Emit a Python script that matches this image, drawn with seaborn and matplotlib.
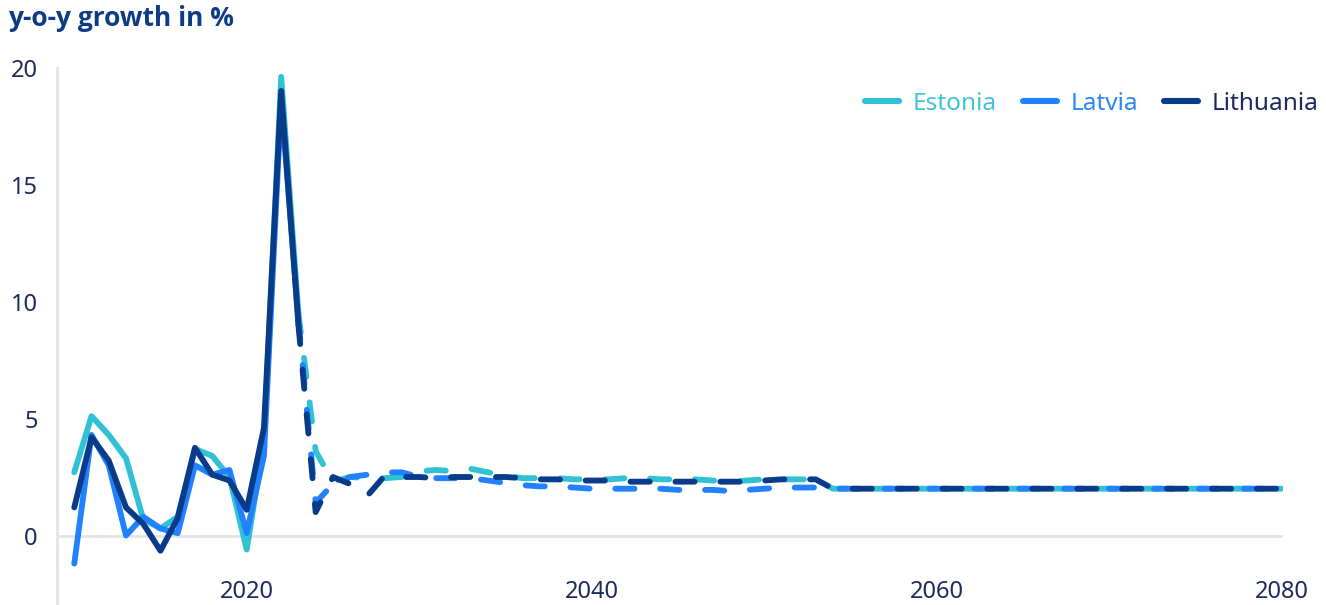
import matplotlib
matplotlib.use("Agg")
import matplotlib.pyplot as plt
from matplotlib.lines import Line2D
import pandas as pd
import seaborn as sns

# Annual real growth, y-o-y in %; outturn up to 2023, projections afterwards
years = list(range(2010, 2081))
last_actual = 2023

estonia = [
    2.7, 5.1, 4.3, 3.3, 0.7, 0.3, 0.8, 3.7, 3.4, 2.5,
    -0.6, 4.0, 19.6, 9.5, 3.6, 2.3, 2.5, 2.45, 2.45, 2.5,
    2.75, 2.8, 2.75, 2.85, 2.7, 2.55, 2.45, 2.45, 2.45, 2.4,
    2.4, 2.4, 2.45, 2.45, 2.4, 2.4, 2.4, 2.35, 2.3, 2.35,
    2.4, 2.4, 2.4, 2.4, 2.0, 2.0, 2.0, 2.0, 2.0, 2.0,
    2.0, 2.0, 2.0, 2.0, 2.0, 2.0, 2.0, 2.0, 2.0, 2.0,
    2.0, 2.0, 2.0, 2.0, 2.0, 2.0, 2.0, 2.0, 2.0, 2.0,
    2.0,
]
latvia = [
    -1.2, 4.3, 3.0, 0.0, 0.8, 0.3, 0.1, 3.0, 2.6, 2.8,
    0.1, 3.4, 18.6, 9.2, 1.4, 2.2, 2.5, 2.6, 2.7, 2.7,
    2.5, 2.45, 2.45, 2.45, 2.35, 2.25, 2.15, 2.1, 2.1, 2.05,
    2.0, 2.0, 2.0, 2.0, 2.0, 1.95, 1.95, 1.95, 1.9, 1.95,
    2.0, 2.05, 2.05, 2.05, 2.0, 2.0, 2.0, 2.0, 2.0, 2.0,
    2.0, 2.0, 2.0, 2.0, 2.0, 2.0, 2.0, 2.0, 2.0, 2.0,
    2.0, 2.0, 2.0, 2.0, 2.0, 2.0, 2.0, 2.0, 2.0, 2.0,
    2.0,
]
lithuania = [
    1.2, 4.2, 3.2, 1.2, 0.5, -0.65, 0.75, 3.75, 2.6, 2.35,
    1.1, 4.6, 19.0, 9.0, 1.0, 2.5, 2.2, 1.7, 2.55, 2.5,
    2.5, 2.45, 2.5, 2.5, 2.5, 2.5, 2.45, 2.4, 2.4, 2.35,
    2.35, 2.35, 2.3, 2.3, 2.3, 2.3, 2.3, 2.3, 2.3, 2.3,
    2.35, 2.4, 2.4, 2.4, 2.0, 2.0, 2.0, 2.0, 2.0, 2.0,
    2.0, 2.0, 2.0, 2.0, 2.0, 2.0, 2.0, 2.0, 2.0, 2.0,
    2.0, 2.0, 2.0, 2.0, 2.0, 2.0, 2.0, 2.0, 2.0, 2.0,
    2.0,
]

countries = ["Estonia", "Latvia", "Lithuania"]
series = {"Estonia": estonia, "Latvia": latvia, "Lithuania": lithuania}
line_colors = {"Estonia": "#30c1d5", "Latvia": "#2181ff", "Lithuania": "#083b89"}
label_colors = {"Estonia": "#3ec4d6", "Latvia": "#2d86f7", "Lithuania": "#1d2b5c"}
x_ticks = [2020, 2040, 2060, 2080]
y_ticks = [0, 5, 10, 15, 20]

# Long-form table: each country split into an outturn and a projection segment
rows = []
for name in countries:
    for yr, val in zip(years, series[name]):
        if yr <= last_actual:
            rows.append({"year": yr, "growth": val, "country": name, "phase": "actual"})
        if yr >= last_actual:
            rows.append({"year": yr, "growth": val, "country": name, "phase": "projection"})
df = pd.DataFrame(rows)

sns.set_style("white")
plt.rcParams["font.family"] = ["Noto Sans", "DejaVu Sans"]

fig = plt.figure(figsize=(13.26, 6.05), dpi=100)
ax = fig.add_axes([0.043, 0.0, 0.9246, 0.8884])

ax.axhline(0, color="#e4e4e4", lw=2.0, zorder=1)

sns.lineplot(
    data=df, x="year", y="growth",
    hue="country", hue_order=countries, palette=line_colors,
    style="phase", style_order=["actual", "projection"],
    dashes={"actual": "", "projection": (3.3, 4.4)},
    estimator=None, sort=True, linewidth=4.2, legend=False, ax=ax, zorder=3,
)
for ln in ax.lines[1:]:
    ln.set_solid_capstyle("round")
    ln.set_dash_capstyle("round")
    ln.set_solid_joinstyle("round")
    ln.set_dash_joinstyle("round")

ax.set_xlim(2009.0, 2080.1)
ax.set_ylim(-2.97, 20.0)
ax.set_xticks(x_ticks)
ax.set_yticks(y_ticks)
ax.set_xlabel("")
ax.set_ylabel("")

for side in ("top", "right"):
    ax.spines[side].set_visible(False)
ax.spines["bottom"].set_position(("data", -1.8))
ax.spines["bottom"].set_visible(False)
ax.spines["left"].set_color("#e4e4e4")
ax.spines["left"].set_linewidth(2.0)

ax.tick_params(axis="both", length=0, labelsize=17, labelcolor="#1d2b5c")
ax.tick_params(axis="y", pad=14)
ax.tick_params(axis="x", pad=2)

fig.text(0.006, 1 - 26 / 605, "y-o-y growth in %", fontsize=19,
         family=["Open Sans", "Lato", "DejaVu Sans"], fontweight="bold",
         color="#0d3b86", ha="left", va="baseline")

handles = [
    Line2D([], [], color=line_colors[c], lw=4.4, solid_capstyle="round") for c in countries
]
leg = fig.legend(
    handles, countries, loc="center right", bbox_to_anchor=(0.994, 1 - 104 / 605),
    bbox_transform=fig.transFigure, ncol=3, frameon=False, fontsize=17.6,
    handlelength=1.4, handletextpad=0.55, columnspacing=1.05,
    borderpad=0, borderaxespad=0,
)
for txt, c in zip(leg.get_texts(), countries):
    txt.set_color(label_colors[c])

fig.savefig("out.png", dpi=100)
